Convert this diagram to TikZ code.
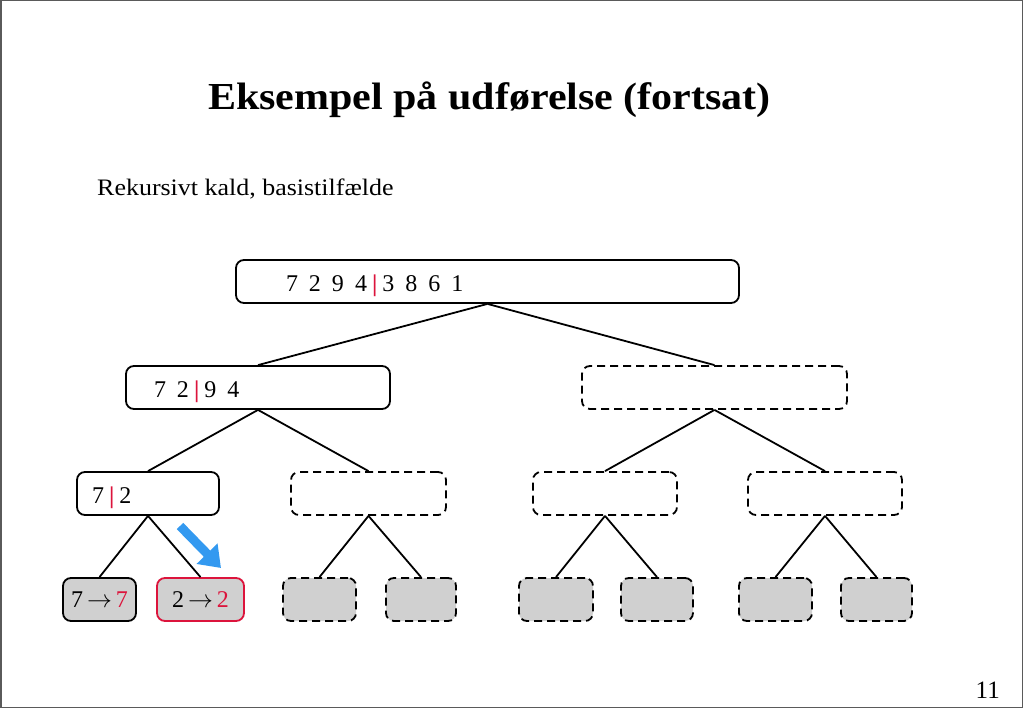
\documentclass[tikz,border=0pt]{standalone}
\usepackage{fontspec}
\setmainfont{Liberation Serif}
\newfontfamily\widefont[FakeStretch=1.1]{Liberation Serif}
\usetikzlibrary{arrows.meta}
\definecolor{myred}{RGB}{220,20,60}
\definecolor{leafgray}{RGB}{208,208,208}
\definecolor{myblue}{RGB}{51,153,240}
\definecolor{framegray}{RGB}{90,90,90}
\newcommand{\rbar}{\hspace{5pt}\textcolor{myred}{\textbf{|}}\hspace{5pt}}
\newcommand{\gp}{\hspace{11pt}}
\begin{document}
\begin{tikzpicture}[x=1pt,y=-1pt,
  box/.style={draw=black, line width=1.8pt, rounded corners=8pt, fill=white, inner ysep=0pt, minimum height=43pt, text height=20pt, text depth=0pt, font=\fontsize{24}{24}\selectfont, align=left},
  dbox/.style={box, dash pattern=on 8pt off 5pt},
  leaf/.style={draw=black, line width=1.8pt, rounded corners=8pt, fill=leafgray, minimum height=43pt, inner sep=0pt, font=\fontsize{24}{24}\selectfont},
  dleaf/.style={leaf, dash pattern=on 8pt off 5pt},
  edge/.style={draw=black, line width=1.8pt}]
\useasboundingbox (0,0) rectangle (1023,708);
\draw[framegray, line width=1.5pt] (0.75,0.75) rectangle (1022.25,707.25);

\node[anchor=base, inner sep=0pt, font=\widefont\fontsize{38.2}{38}\selectfont\bfseries] (title) at (489.5,110) {Eksempel på udførelse (fortsat)};
\node[anchor=base west, inner sep=0pt, font=\widefont\fontsize{23.6}{24}\selectfont] (sub) at (97,196) {Rekursivt kald, basistilfælde};
\node[anchor=base east, inner sep=0pt, font=\fontsize{25}{25}\selectfont] (pnum) at (1000,698) {11};

% root
\node[box, inner xsep=50pt, text width=403pt] (root) at (487.5,281.5) {7\gp2\gp9\gp4\rbar3\gp8\gp6\gp1};
% level 1
\node[box, inner xsep=28pt, text width=208pt] (a) at (258,387.5) {7\gp2\rbar9\gp4};
\node[dbox, minimum width=265pt] (b) at (714.5,387.5) {};
% level 2
\node[box, inner xsep=15pt, text width=112pt] (aa) at (148,493.5) {7\rbar2};
\node[dbox, minimum width=155pt] (ab) at (368.5,493.5) {};
\node[dbox, minimum width=144pt] (ba) at (605,493.5) {};
\node[dbox, minimum width=154pt] (bb) at (825,493.5) {};
% leaves
\node[leaf, minimum width=73pt] (aaa) at (99.5,599.5) {7\,$\rightarrow$\,\textcolor{myred}{7}};
\node[leaf, draw=myred, minimum width=87pt] (aab) at (200.5,599.5) {2\,$\rightarrow$\,\textcolor{myred}{2}};
\node[dleaf, minimum width=73pt] (aba) at (319.5,599.5) {};
\node[dleaf, minimum width=70pt] (abb) at (421,599.5) {};
\node[dleaf, minimum width=74pt] (baa) at (556,599.5) {};
\node[dleaf, minimum width=72pt] (bab) at (657,599.5) {};
\node[dleaf, minimum width=73pt] (bba) at (775.5,599.5) {};
\node[dleaf, minimum width=71pt] (bbb) at (876.5,599.5) {};

% edges
\foreach \p/\c in {root/a, root/b, a/aa, a/ab, b/ba, b/bb, aa/aaa, aa/aab, ab/aba, ab/abb, ba/baa, ba/bab, bb/bba, bb/bbb}
  \draw[edge] (\p.south) -- (\c.north);

% blue arrow
\coordinate (bs) at (180,526);
\coordinate (be) at (221,568);
\draw[myblue, line width=9pt, -{Triangle[length=20pt,width=28pt]}] (bs) -- (be);
\end{tikzpicture}
\end{document}
